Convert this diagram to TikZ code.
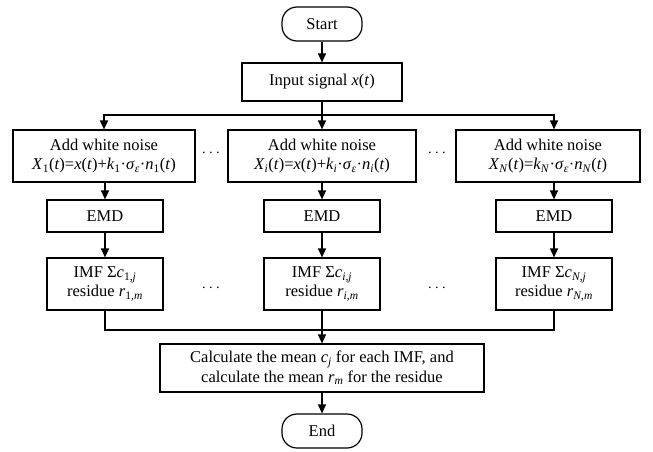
\documentclass[tikz,border=0pt]{standalone}
\usepackage{fontspec}
\setmainfont{Liberation Serif}
\usetikzlibrary{arrows.meta}
\newcommand{\sbs}[1]{\textsubscript{#1}}
\newcommand{\iv}[1]{\textit{#1}}
\begin{document}
\begin{tikzpicture}[x=1pt,y=-1pt,
  box/.style={draw,line width=1.2pt,align=center,inner sep=2pt,font=\fontsize{16.5}{19.5}\selectfont},
  term/.style={box,rounded corners=15pt},
  arr/.style={line width=1.2pt,-{Triangle[length=9pt,width=8pt]}},
  ln/.style={line width=1.2pt},
  dots/.style={font=\fontsize{14}{16}\selectfont}]
\useasboundingbox (0,0) rectangle (653,452);
\node[term,minimum width=80,minimum height=34] (start) at (322,24) {Start};
\node[box,minimum width=160,minimum height=38] (input) at (322,82) {Input signal \iv{x}(\iv{t})};
\node[box,minimum width=182,minimum height=52] (n1) at (104,156) {Add white noise\\\iv{X}\sbs{1}(\iv{t})=\iv{x}(\iv{t})+\iv{k}\sbs{1}·\iv{σ}\sbs{\iv{ε}}·\iv{n}\sbs{1}(\iv{t})};
\node[box,minimum width=188,minimum height=52] (ni) at (322,156) {Add white noise\\\iv{X}\sbs{\iv{i}}(\iv{t})=\iv{x}(\iv{t})+\iv{k}\sbs{\iv{i}}·\iv{σ}\sbs{\iv{ε}}·\iv{n}\sbs{\iv{i}}(\iv{t})};
\node[box,minimum width=184,minimum height=52] (nN) at (548,156) {Add white noise\\\iv{X}\sbs{\iv{N}}(\iv{t})=\iv{k}\sbs{\iv{N}}·\iv{σ}\sbs{\iv{ε}}·\iv{n}\sbs{\iv{N}}(\iv{t})};
\node[box,minimum width=116,minimum height=32] (e1) at (105,216) {EMD};
\node[box,minimum width=116,minimum height=32] (ei) at (322,216) {EMD};
\node[box,minimum width=116,minimum height=32] (eN) at (554,216) {EMD};
\node[box,minimum width=116,minimum height=52] (m1) at (105,284) {IMF Σ\iv{c}\sbs{1,\iv{j}}\\residue \iv{r}\sbs{1,\iv{m}}};
\node[box,minimum width=116,minimum height=52] (mi) at (322,284) {IMF Σ\iv{c}\sbs{\iv{i},\iv{j}}\\residue \iv{r}\sbs{\iv{i},\iv{m}}};
\node[box,minimum width=116,minimum height=52] (mN) at (554,284) {IMF Σ\iv{c}\sbs{\iv{N},\iv{j}}\\residue \iv{r}\sbs{\iv{N},\iv{m}}};
\node[box,minimum width=324,minimum height=48] (calc) at (322,368) {Calculate the mean \iv{c}\sbs{\iv{j}} for each IMF, and\\calculate the mean \iv{r}\sbs{\iv{m}} for the residue};
\node[term,minimum width=80,minimum height=34] (end) at (322,431) {End};
\node[dots] (d1) at (211,155) {·\,·\,·};
\node[dots] (d2) at (437,155) {·\,·\,·};
\node[dots] (d3) at (211,290) {·\,·\,·};
\node[dots] (d4) at (437,290) {·\,·\,·};
\coordinate (split) at (322,115);
\coordinate (merge) at (322,330);
\coordinate (rt) at (nN.north -| eN.north);
\draw[arr] (start) -- (input);
\draw[ln] (input) -- (split);
\draw[arr] (split) -| (n1);
\draw[arr] (split) -- (ni);
\draw[arr] (split) -| (rt);
\draw[arr] (n1.south -| e1.north) -- (e1);
\draw[arr] (ni) -- (ei);
\draw[arr] (nN.south -| eN.north) -- (eN);
\draw[arr] (e1) -- (m1);
\draw[arr] (ei) -- (mi);
\draw[arr] (eN) -- (mN);
\draw[ln] (m1) |- (merge);
\draw[ln] (mN) |- (merge);
\draw[ln] (mi) -- (merge);
\draw[arr] (merge) -- (calc);
\draw[arr] (calc) -- (end);
\end{tikzpicture}
\end{document}
